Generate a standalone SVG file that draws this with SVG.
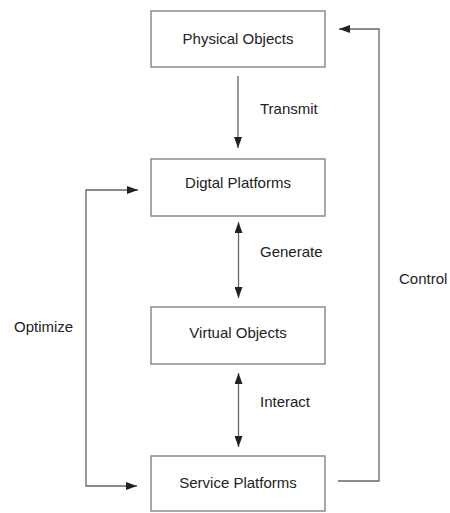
<svg xmlns="http://www.w3.org/2000/svg" width="450" height="513" viewBox="0 0 450 513">
<defs>
<style>
.box{fill:#fff;stroke:#7a7a7a;stroke-width:1.3}
.t{font-family:"Liberation Sans",Arial,sans-serif;font-size:15px;fill:#222}
.c{text-anchor:middle}
.ln{fill:none;stroke:#666;stroke-width:1.3}
</style>
<marker id="ah" markerUnits="userSpaceOnUse" markerWidth="12" markerHeight="8" refX="11" refY="4" orient="auto-start-reverse">
<path d="M0,0 L11,4 L0,8 Z" fill="#222"/>
</marker>
</defs>
<rect width="450" height="513" fill="#fff"/>
<g id="edges">
<line class="ln" x1="238" y1="76" x2="238" y2="148" marker-end="url(#ah)"/>
<line class="ln" x1="238.5" y1="222" x2="238.5" y2="298" marker-start="url(#ah)" marker-end="url(#ah)"/>
<line class="ln" x1="238.5" y1="373" x2="238.5" y2="447" marker-start="url(#ah)" marker-end="url(#ah)"/>
<polyline class="ln" points="138,190 86,190 86,486 137,486" marker-start="url(#ah)" marker-end="url(#ah)"/>
<polyline class="ln" points="338,481 379,481 379,29 339,29" marker-end="url(#ah)"/>
<text class="t" x="260" y="114">Transmit</text>
<text class="t" x="260" y="257">Generate</text>
<text class="t" x="260" y="407">Interact</text>
<text class="t" x="14" y="332">Optimize</text>
<text class="t" x="399" y="284">Control</text>
</g>
<g id="physical">
<rect class="box" x="151" y="11" width="174" height="56"/>
<text class="t c" x="238" y="44">Physical Objects</text>
</g>
<g id="digital">
<rect class="box" x="151" y="159" width="174" height="57"/>
<text class="t c" x="238" y="188">Digtal Platforms</text>
</g>
<g id="virtual">
<rect class="box" x="151" y="307" width="174" height="57"/>
<text class="t c" x="238" y="338">Virtual Objects</text>
</g>
<g id="service">
<rect class="box" x="151" y="456" width="174" height="55"/>
<text class="t c" x="238" y="488">Service Platforms</text>
</g>
</svg>
